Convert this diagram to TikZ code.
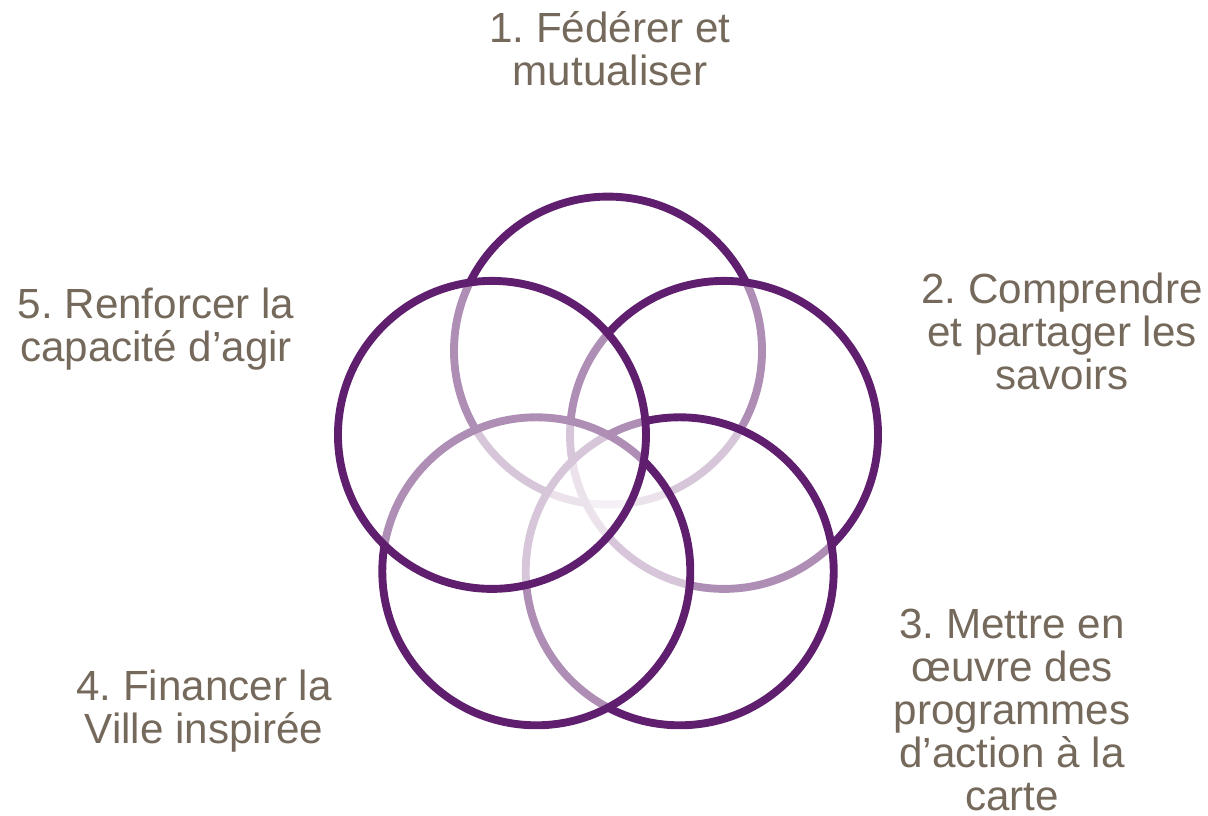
\documentclass[tikz,border=0pt]{standalone}
\usepackage{fontspec}
\setmainfont{Liberation Sans}
\usepackage{tikz}
\usepackage{xcolor}
\frenchspacing
\definecolor{ringpurple}{HTML}{5F1E6E}
\definecolor{labelgrey}{HTML}{75695C}
\tikzset{
  ring/.style={draw=ringpurple, line width=5.6pt},
  veil/.style={fill=white, fill opacity=0.5},
  ringtext/.style={text=labelgrey, align=center, inner sep=0pt,
    font=\fontsize{30}{30.6}\selectfont}
}

\begin{document}
\begin{tikzpicture}
    \useasboundingbox (0,0) rectangle (30.2,20.375);
    \coordinate (middle) at (15.2,8.56);
    \coordinate (c1) at ([shift={(90:3.05)}]middle);
    \coordinate (c2) at ([shift={(18:3.05)}]middle);
    \coordinate (c3) at ([shift={(-54:3.05)}]middle);
    \coordinate (c4) at ([shift={(-126:3.05)}]middle);
    \coordinate (c5) at ([shift={(162:3.05)}]middle);

    \fill[veil] (c1) circle [radius=3.85];
    \draw[ring] (c1) circle [radius=3.85];
    \fill[veil] (c2) circle [radius=3.85];
    \draw[ring] (c2) circle [radius=3.85];
    \fill[veil] (c3) circle [radius=3.85];
    \draw[ring] (c3) circle [radius=3.85];
    \fill[veil] (c4) circle [radius=3.85];
    \draw[ring] (c4) circle [radius=3.85];
    \fill[veil] (c5) circle [radius=3.85];
    \draw[ring] (c5) circle [radius=3.85];

    \node[ringtext] (t1) at (15.25,19.15) {1. Fédérer et\\mutualiser};
    \node[ringtext] (t2) at (26.55,12.1) {2. Comprendre\\et partager les\\savoirs};
    \node[ringtext] (t3) at (25.3,2.62) {3. Mettre en\\œuvre des\\programmes\\d’action à la\\carte};
    \node[ringtext] (t4) at (5.1,2.6) {4. Financer la\\Ville inspirée};
    \node[ringtext] (t5) at (3.9,12.15) {5. Renforcer la\\capacité d’agir};
\end{tikzpicture}
\end{document}
